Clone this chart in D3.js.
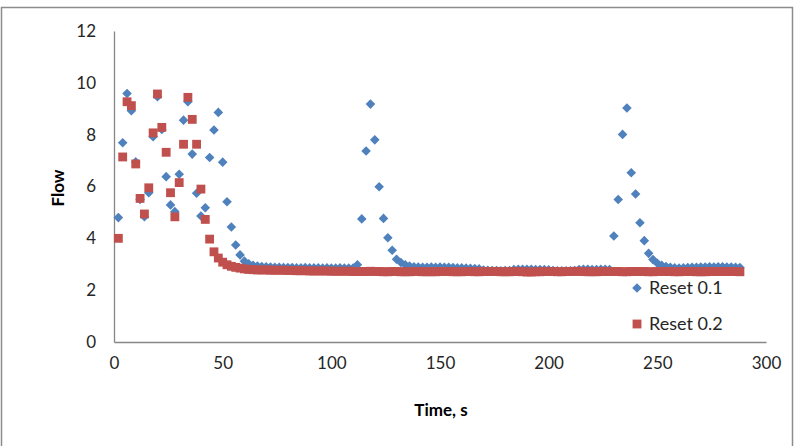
<!DOCTYPE html>
<html>
<head>
<meta charset="utf-8">
<script src="https://cdn.jsdelivr.net/npm/d3@7"></script>
<style>
  body { margin: 0; background: #fff; }
  svg { display: block; font-family: Lato, "Open Sans", sans-serif; }
</style>
</head>
<body>
<svg id="chart" width="798" height="446"></svg>
<script>
// time stamps, seconds (both runs sampled every 2 s)
const times = [2,4,6,8,10,12,14,16,18,20,22,24,26,28,30,32,34,36,38,40,42,44,46,48,50,52,54,56,58,60,
  62,64,66,68,70,72,74,76,78,80,82,84,86,88,90,92,94,96,98,100,102,104,106,108,110,112,114,116,118,120,
  122,124,126,128,130,132,134,136,138,140,142,144,146,148,150,152,154,156,158,160,162,164,166,168,170,172,174,176,178,180,
  182,184,186,188,190,192,194,196,198,200,202,204,206,208,210,212,214,216,218,220,222,224,226,228,230,232,234,236,238,240,
  242,244,246,248,250,252,254,256,258,260,262,264,266,268,270,272,274,276,278,280,282,284,286,288];

const reset01 = [4.80,7.69,9.59,8.92,6.95,5.50,4.83,5.76,7.92,9.46,8.20,6.38,5.29,5.03,6.47,8.56,9.27,7.25,5.74,4.86,
  5.18,7.12,8.18,8.86,6.94,5.41,4.44,3.74,3.36,3.12,3.02,2.96,2.93,2.91,2.90,2.89,2.88,2.88,2.87,2.87,
  2.87,2.86,2.86,2.87,2.86,2.86,2.86,2.85,2.86,2.85,2.85,2.86,2.85,2.85,2.85,2.98,4.75,7.37,9.18,7.80,
  5.99,4.77,4.02,3.54,3.19,3.07,2.98,2.93,2.90,2.89,2.88,2.88,2.89,2.88,2.89,2.88,2.88,2.87,2.86,2.86,
  2.85,2.84,2.83,2.82,2.78,2.77,2.76,2.76,2.75,2.76,2.76,2.80,2.81,2.81,2.81,2.81,2.80,2.80,2.80,2.79,
  2.76,2.75,2.75,2.75,2.75,2.76,2.80,2.81,2.81,2.80,2.80,2.81,2.81,2.80,4.09,5.50,8.01,9.03,6.53,5.71,
  4.60,3.91,3.42,3.18,3.04,2.96,2.91,2.88,2.86,2.85,2.86,2.87,2.88,2.88,2.89,2.89,2.90,2.89,2.90,2.90,
  2.89,2.89,2.88,2.87];

const reset02 = [4.00,7.14,9.27,9.12,6.87,5.54,4.94,5.95,8.07,9.57,8.28,7.32,5.76,4.83,6.15,7.63,9.44,8.59,7.63,5.90,
  4.73,3.97,3.48,3.24,3.08,2.98,2.92,2.88,2.85,2.82,2.80,2.79,2.78,2.78,2.78,2.77,2.77,2.77,2.77,2.76,
  2.76,2.75,2.75,2.75,2.74,2.74,2.74,2.74,2.74,2.73,2.73,2.73,2.73,2.73,2.72,2.72,2.72,2.72,2.73,2.72,
  2.72,2.71,2.71,2.72,2.72,2.71,2.71,2.71,2.72,2.72,2.71,2.71,2.71,2.71,2.72,2.72,2.72,2.71,2.71,2.71,
  2.72,2.72,2.71,2.71,2.72,2.72,2.72,2.72,2.71,2.71,2.71,2.72,2.72,2.71,2.70,2.70,2.71,2.71,2.72,2.72,
  2.72,2.71,2.71,2.72,2.72,2.73,2.72,2.72,2.71,2.71,2.71,2.72,2.72,2.72,2.72,2.72,2.71,2.71,2.72,2.72,
  2.72,2.72,2.71,2.71,2.72,2.72,2.72,2.72,2.71,2.71,2.72,2.72,2.72,2.71,2.71,2.71,2.72,2.72,2.72,2.72,
  2.72,2.72,2.72,2.71];

const xTicks = [0, 50, 100, 150, 200, 250, 300];
const yTicks = [0, 2, 4, 6, 8, 10, 12];
const seriesNames = ["Reset 0.1", "Reset 0.2"];
const seriesColors = ["#4F81BD", "#C0504D"];

const svg = d3.select("#chart");

const plot = { left: 114, right: 766, top: 31, bottom: 342 };

// outer chart frame
svg.append("rect")
    .attr("x", 1.5)
    .attr("y", 7.5)
    .attr("width", 791)
    .attr("height", 445)
    .attr("fill", "none")
    .attr("stroke", "#8c8c8c")
    .attr("stroke-width", 1.5);

const xScale = d3.scaleLinear().domain([0, 300]).range([plot.left, plot.right]);
const yScale = d3.scaleLinear().domain([0, 12]).range([plot.bottom, plot.top]);

// axes
const xAxis = svg.append("g")
    .attr("transform", `translate(0, ${plot.bottom})`)
    .call(d3.axisBottom(xScale).tickValues(xTicks).tickSize(0).tickPadding(15).tickFormat(d3.format("d")));

const yAxis = svg.append("g")
    .attr("transform", `translate(${plot.left}, 0)`)
    .call(d3.axisLeft(yScale).tickValues(yTicks).tickSize(0).tickPadding(18).tickFormat(d3.format("d")));

[xAxis, yAxis].forEach(ax => {
    ax.select(".domain").attr("stroke", "#868686").attr("stroke-width", 1.3);
    ax.selectAll("text")
        .attr("fill", "#262626")
        .style("font-size", "17px")
        .style("font-family", "Lato, sans-serif");
});

// axis titles
svg.append("text")
    .attr("x", 441)
    .attr("y", 416)
    .attr("text-anchor", "middle")
    .style("font-size", "17px")
    .style("font-weight", "bold")
    .attr("fill", "#000")
    .text("Time, s");

svg.append("text")
    .attr("transform", "translate(64, 188) rotate(-90)")
    .attr("text-anchor", "middle")
    .style("font-size", "17px")
    .style("font-weight", "bold")
    .attr("fill", "#000")
    .text("Flow");

// markers
const diamond = d3.symbol().type(d3.symbolSquare).size(46);
const square = d3.symbol().type(d3.symbolSquare).size(78);

const pts01 = times.map((t, i) => ({ t, v: reset01[i] }));
const pts02 = times.map((t, i) => ({ t, v: reset02[i] }));

svg.append("g").selectAll("path")
    .data(pts01)
    .enter()
    .append("path")
    .attr("d", diamond)
    .attr("transform", d => `translate(${xScale(d.t)}, ${yScale(d.v)}) rotate(45)`)
    .attr("fill", seriesColors[0]);

svg.append("g").selectAll("path")
    .data(pts02)
    .enter()
    .append("path")
    .attr("d", square)
    .attr("transform", d => `translate(${xScale(d.t)}, ${yScale(d.v)})`)
    .attr("fill", seriesColors[1]);

// legend
const legend = svg.append("g").attr("transform", "translate(637, 288)");

legend.append("path")
    .attr("d", diamond)
    .attr("transform", "rotate(45)")
    .attr("fill", seriesColors[0]);

legend.append("path")
    .attr("d", square)
    .attr("transform", "translate(0, 36)")
    .attr("fill", seriesColors[1]);

legend.selectAll("text")
    .data(seriesNames)
    .enter()
    .append("text")
    .attr("x", 12)
    .attr("y", (d, i) => i * 36)
    .attr("dy", "0.35em")
    .attr("fill", "#262626")
    .style("font-size", "18px")
    .text(d => d);
</script>
</body>
</html>
